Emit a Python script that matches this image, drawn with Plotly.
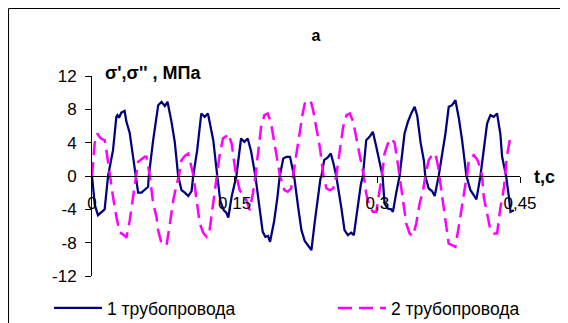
import plotly.graph_objects as go

# ---- data ----
t1 = [0, 0.003, 0.0063, 0.0098, 0.0133, 0.0169, 0.0221, 0.0256, 0.0267, 0.0284, 0.0308, 0.0343,
      0.0362, 0.0396, 0.0432, 0.0466, 0.0485, 0.0520, 0.0555, 0.0590, 0.0597, 0.0643, 0.0696,
      0.0731, 0.0766, 0.0794, 0.0836, 0.0871, 0.0906, 0.0941, 0.0976, 0.1012, 0.1047, 0.1064,
      0.1106, 0.1149, 0.1184, 0.1219, 0.1254, 0.1275, 0.1317, 0.1349, 0.1384, 0.1412, 0.1433,
      0.1468, 0.1518, 0.1546, 0.1567, 0.1602, 0.1637, 0.1672, 0.1718, 0.1760, 0.1795, 0.1823,
      0.1851, 0.1872, 0.1914, 0.1950, 0.1974, 0.2011, 0.2046, 0.2082, 0.2109, 0.2125, 0.2167,
      0.2202, 0.2237, 0.2272, 0.2307, 0.2342, 0.2378, 0.2402, 0.2413, 0.2441, 0.2476, 0.2511,
      0.2539, 0.2568, 0.2620, 0.2655, 0.2690, 0.2725, 0.2753, 0.2795, 0.2827, 0.2848, 0.2883,
      0.2918, 0.2953, 0.2989, 0.3009, 0.3055, 0.3076, 0.3111, 0.3146, 0.3164, 0.3199, 0.3234,
      0.3286, 0.3321, 0.3356, 0.3392, 0.3420, 0.3455, 0.3490, 0.3504, 0.3540, 0.3575, 0.3603,
      0.3638, 0.3645, 0.3716, 0.3751, 0.3786, 0.3821, 0.3856, 0.3891, 0.3937, 0.3979, 0.4014,
      0.4042, 0.4084, 0.4126, 0.4154, 0.4189, 0.4224, 0.4259, 0.4294, 0.4312, 0.4354, 0.4383,
      0.4400, 0.4436]
s1 = [0, -3.5, -4.7, -4.3, -4.0, 0, 3.1, 7.1, 7.3, 7.0, 7.6, 7.8,
      6.5, 5.2, 2.5, 0, -2.0, -2.0, -1.7, -1.3, 0, 4.3, 8.5,
      8.9, 8.4, 8.9, 6.5, 4.0, 0, -1.7, -2.0, -2.4, -1.8, 0,
      3.1, 7.5, 7.1, 7.5, 5.5, 4.3, 0, -3.0, -4.1, -4.4, -5.0,
      -2.5, 0, 3.0, 4.5, 4.1, 4.5, 3.0, 0, -3.7, -6.7, -7.3,
      -7.2, -7.9, -5.5, -2.5, 0, 2.1, 2.3, 2.3, 1.0, 0, -3.7,
      -6.5, -7.8, -8.3, -8.9, -5.5, -2.0, -0.3, 0, 1.9, 2.2, 2.7,
      1.5, 0, -3.7, -6.5, -7.1, -6.8, -7.1, -3.5, -1.0, 0, 4.3,
      4.7, 5.3, 3.5, 2.3, 0, -3.3, -3.9, -4.0, -4.3, -2.0, 0,
      5.1, 6.5, 7.5, 8.3, 7.2, 4.0, 1.8, 0, -1.5, -1.8, -2.4,
      -0.5, 0, 5.1, 8.3, 8.5, 9.1, 7.0, 4.3, 0, -1.7, -2.3,
      -2.8, 0, 3.5, 6.3, 7.3, 7.1, 7.5, 5.0, 2.3, 0, -2.5,
      -4.3, -4.1]

t2 = [0, 0.0028, 0.0056, 0.0084, 0.0112, 0.0133, 0.0151, 0.0186, 0.0221, 0.0256, 0.0292, 0.0327,
      0.0362, 0.0397, 0.0432, 0.0467, 0.0485, 0.0520, 0.0555, 0.0573, 0.0590, 0.0608, 0.0643,
      0.0678, 0.0695, 0.0731, 0.0766, 0.0784, 0.0819, 0.0855, 0.0890, 0.0913, 0.0941, 0.0976,
      0.1012, 0.1047, 0.1068, 0.1099, 0.1134, 0.1169, 0.1204, 0.1233, 0.1275, 0.1307, 0.1339,
      0.1377, 0.1412, 0.1433, 0.1468, 0.1503, 0.1518, 0.1553, 0.1588, 0.1623, 0.1658, 0.1693,
      0.1718, 0.1743, 0.1778, 0.1813, 0.1848, 0.1883, 0.1918, 0.1953, 0.1977, 0.2023, 0.2058,
      0.2093, 0.2113, 0.2142, 0.2177, 0.2212, 0.2237, 0.2272, 0.2297, 0.2325, 0.2360, 0.2395,
      0.2434, 0.2466, 0.2501, 0.2536, 0.2568, 0.2606, 0.2641, 0.2676, 0.2711, 0.2746, 0.2781,
      0.2817, 0.2858, 0.2883, 0.2918, 0.2953, 0.2989, 0.3024, 0.3048, 0.3076, 0.3111, 0.3146,
      0.3181, 0.3209, 0.3234, 0.3269, 0.3304, 0.3339, 0.3374, 0.3409, 0.3445, 0.3480, 0.3504,
      0.3540, 0.3575, 0.3610, 0.3638, 0.3652, 0.3680, 0.3715, 0.3750, 0.3785, 0.3820, 0.3856,
      0.3891, 0.3926, 0.3944, 0.3961, 0.3996, 0.4014, 0.4049, 0.4084, 0.4101, 0.4119, 0.4154,
      0.4189, 0.4224, 0.4259, 0.4294, 0.4330, 0.4343, 0.4361, 0.4396, 0.4432]
s2 = [0, 3.9, 5.1, 4.6, 4.4, 4.3, 3.1, 0, -2.5, -4.9, -6.8, -7.0,
      -7.4, -5.3, -2.5, 0, 1.7, 2.0, 2.3, 2.3, 1.0, 0, -3.3,
      -4.9, -6.5, -8.1, -8.2, -8.3, -5.7, -2.9, -1.0, 0, 1.9, 2.4,
      2.7, 1.2, 0, -2.9, -5.7, -6.8, -7.3, -6.8, -2.9, 0, 2.3,
      4.5, 4.8, 5.1, 3.9, 1.0, 0, -1.7, -2.3, -2.9, -4.1, -2.0,
      0, 2.7, 5.9, 7.3, 7.5, 6.3, 3.9, 1.5, 0, -1.7, -1.9,
      -1.5, 0, 2.5, 5.0, 7.3, 8.7, 8.9, 9.1, 7.9, 5.9, 3.5,
      0, -1.5, -1.7, -1.5, 0, 3.1, 5.9, 7.3, 7.5, 6.5, 4.5,
      2.5, 0, -2.1, -3.7, -4.3, -4.3, -1.7, 0, 2.7, 3.9, 4.5,
      4.0, 2.0, 0, -2.5, -5.7, -6.9, -7.2, -5.7, -3.3, -1.8, 0,
      1.9, 2.5, 2.7, 1.2, 0, -2.5, -5.3, -8.1, -8.3, -8.5, -6.1,
      -3.3, -1.0, 0, 1.9, 2.3, 2.5, 2.0, 1.0, 0, -2.5, -4.5,
      -6.5, -6.9, -6.9, -3.8, -1.5, 0, 2.3, 4.5, 4.5]

series_names = ["1 трубопровода", "2 трубопровода"]
x_tickvals = [0, 0.15, 0.3, 0.45]
x_ticktext = ["0", "0,15", "0,3", "0,45"]
y_tickvals = [-12, -8, -4, 0, 4, 8, 12]
y_ticktext = ["-12", "-8", "-4", "0", "4", "8", "12"]

FONT = "Arial, Liberation Sans, sans-serif"
W, H = 560, 315   # page body has an 8px margin

fig = go.Figure()
fig.add_trace(go.Scatter(x=t1, y=s1, mode="lines", name=series_names[0],
                         line=dict(color="#000080", width=2.25), legend="legend"))
fig.add_trace(go.Scatter(x=t2, y=s2, mode="lines", name=series_names[1],
                         line=dict(color="#FF00FF", width=2.5, dash="14px,7px"),
                         legend="legend2"))

leg_common = dict(orientation="h", xanchor="left", xref="container", yref="container",
                  y=1 - 300 / H, yanchor="middle",
                  font=dict(size=17.5), bgcolor="rgba(0,0,0,0)", itemwidth=48)

fig.update_layout(
    width=W, height=H,
    margin=dict(l=84, r=48, t=68, b=47, autoexpand=False),
    paper_bgcolor="white", plot_bgcolor="white",
    font=dict(family=FONT, size=17, color="black"),
    showlegend=True,
    legend=dict(x=41 / W, **leg_common),
    legend2=dict(x=325 / W, **leg_common),
    title=dict(text="<b>a</b>", x=0.523, xref="paper", xanchor="center",
               y=1 - 27 / H, yref="container", yanchor="middle",
               font=dict(size=16, family=FONT)),
    xaxis=dict(range=[0, 0.45], tickvals=x_tickvals, ticktext=x_ticktext,
               showgrid=False, zeroline=False, showline=True, linecolor="black",
               linewidth=1, ticks="outside", ticklen=6, tickcolor="black",
               anchor="free", position=0.5, ticklabelstandoff=6,
               tickfont=dict(size=17)),
    yaxis=dict(range=[-12, 12], tickvals=y_tickvals, ticktext=y_ticktext,
               showgrid=False, zeroline=False, showline=True, linecolor="black",
               linewidth=1, ticks="outside", ticklen=6, tickcolor="black",
               ticklabelstandoff=5, tickfont=dict(size=17)),
    annotations=[
        dict(text="<b>σ',σ'' , МПа</b>", xref="paper", yref="paper", x=0.026, y=1.015,
             xanchor="left", yanchor="middle", showarrow=False, font=dict(size=18)),
        dict(text="<b>t,c</b>", xref="paper", yref="paper", x=1.028, y=0.495,
             xanchor="left", yanchor="middle", showarrow=False, font=dict(size=18)),
    ],
    shapes=[
        dict(type="rect", xref="paper", yref="paper", x0=-0.195, x1=1.3, y0=-0.6, y1=1.3375,
             line=dict(color="black", width=1), fillcolor="rgba(0,0,0,0)", layer="below"),
    ],
)

fig.write_html("out.html")
